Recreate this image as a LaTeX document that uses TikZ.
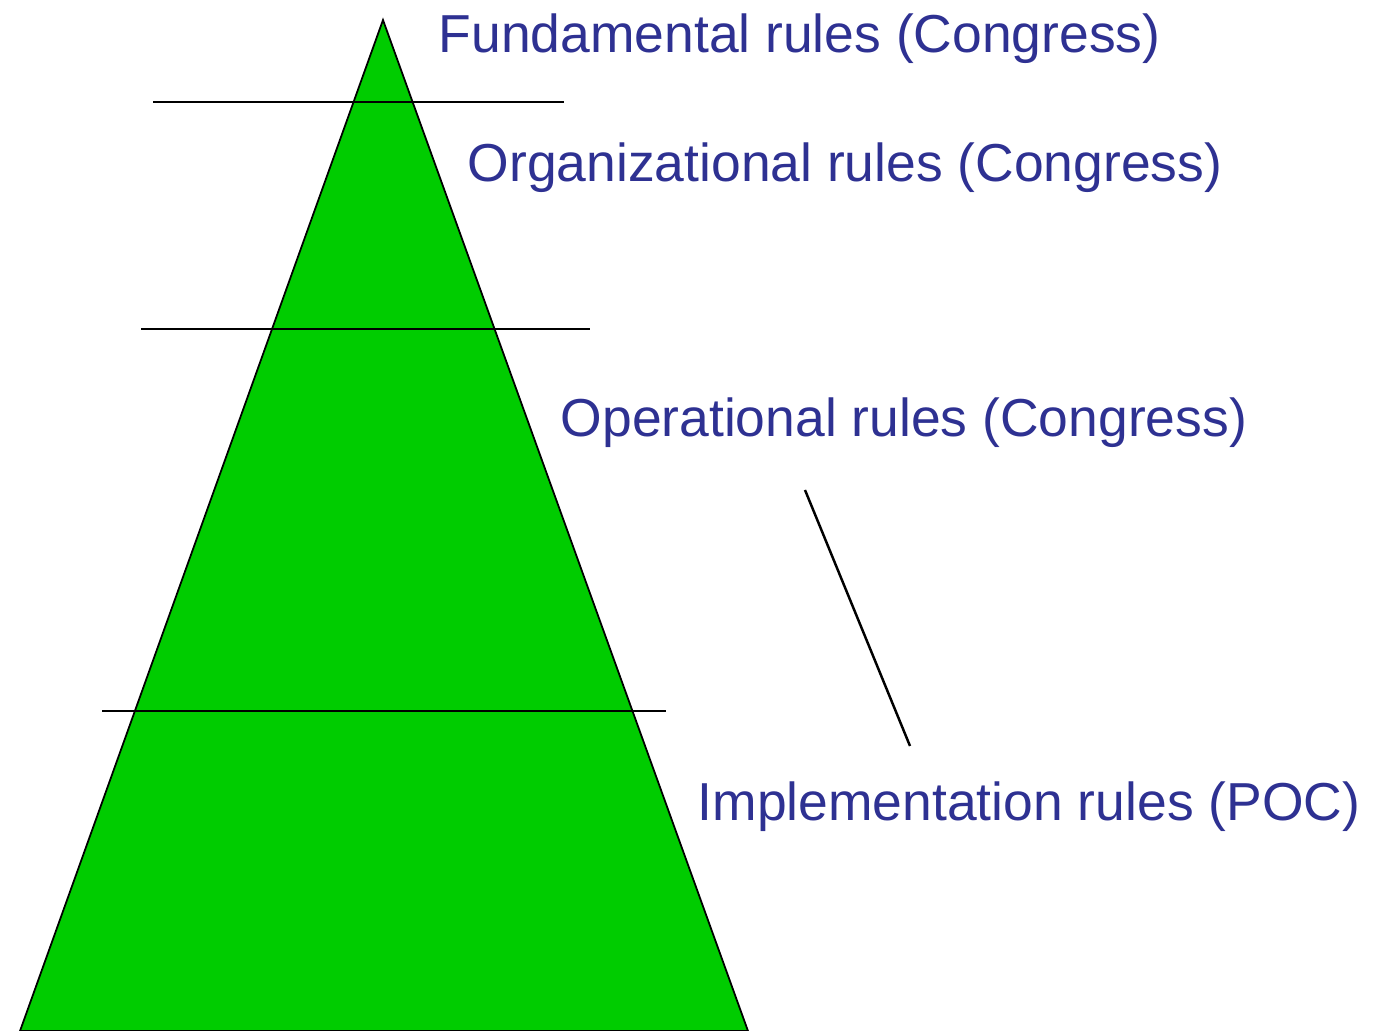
\documentclass[tikz,border=0pt]{standalone}
\usepackage{fontspec}
\setmainfont{Liberation Sans}
\usepackage{tikz}
\usetikzlibrary{positioning}
\definecolor{rulegreen}{RGB}{0,204,0}
\definecolor{ruleblue}{RGB}{46,49,146}
\tikzset{
  level/.style={anchor=base west, inner sep=0pt, text=ruleblue, font=\fontsize{15.2}{18}\selectfont},
  divider/.style={draw=black, line width=0.5pt}
}
\begin{document}
\begin{tikzpicture}[x=0.01cm, y=-0.01cm]
\useasboundingbox (0,0) rectangle (1381,1031);
\coordinate (top) at (383,20);
\coordinate (bl) at (20,1031);
\coordinate (br) at (748,1031);
\filldraw[fill=rulegreen, draw=black, line width=0.5pt] (top) -- (br) -- (bl) -- cycle;

\coordinate (d1a) at (153,102);
\coordinate (d1b) at (564,102);
\coordinate (d2a) at (141,329);
\coordinate (d2b) at (590,329);
\coordinate (d3a) at (102,711);
\coordinate (d3b) at (666,711);
\draw[divider] (d1a) -- (d1b);
\draw[divider] (d2a) -- (d2b);
\draw[divider] (d3a) -- (d3b);

\node (fund) at (438,53) [level] {Fundamental rules (Congress)};
\node (orga) at (467,182) [level] {Organizational rules (Congress)};
\node (oper) at (560,437) [level] {Operational rules (Congress)};
\node (impl) at (697,821) [level] {Implementation rules (POC)};

\coordinate (s1) at (805,490);
\coordinate (s2) at (910,746);
\draw[divider, line width=0.7pt] (s1) -- (s2);
\end{tikzpicture}
\end{document}
